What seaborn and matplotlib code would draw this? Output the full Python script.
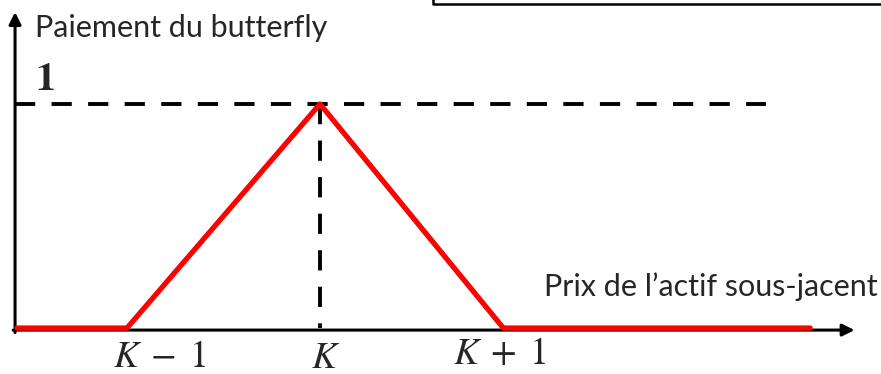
import numpy as np
import pandas as pd
import matplotlib
matplotlib.use("Agg")
import matplotlib.pyplot as plt
import seaborn as sns

# payoff of the butterfly (strike K = 2 in chart units)
price = [0.43, 1.0, 2.0, 2.95, 4.54]
payoff = [0.0, 0.0, 1.0, 0.0, 0.0]
tick_pos = [1.17, 2.03, 2.93]
tick_labels = [r"$K\;-\;1$", r"$K$", r"$K\;+\;1$"]


def main() -> None:
    sns.set_theme(style="white")
    plt.rcParams["font.family"] = ["Lato", "DejaVu Sans"]
    plt.rcParams["mathtext.fontset"] = "stix"

    fig = plt.figure(figsize=(8.81, 3.74), dpi=100)
    ax = fig.add_axes([0, 0, 1, 1])
    ax.set_xlim(0.342, 4.907)
    ax.set_ylim(-0.205, 1.464)
    ax.axis("off")

    df = pd.DataFrame({"price": price, "payoff": payoff})

    # dashed guides
    ax.plot([0.42, 4.31], [1, 1], color="black", lw=2.8,
            linestyle=(0, (5.2, 4.2)), solid_capstyle="butt")
    ax.plot([2.0, 2.0], [1, 0], color="black", lw=2.8,
            linestyle=(0, (5.2, 4.2)))

    # axes with arrows
    ax.annotate("", xy=(4.77, -0.009), xytext=(0.41, -0.009),
                arrowprops=dict(arrowstyle="-|>", lw=2.2, color="black",
                                mutation_scale=18, shrinkA=0, shrinkB=0))
    ax.annotate("", xy=(0.42, 1.41), xytext=(0.42, -0.02),
                arrowprops=dict(arrowstyle="-|>", lw=2.2, color="black",
                                mutation_scale=18, shrinkA=0, shrinkB=0))

    sns.lineplot(data=df, x="price", y="payoff", sort=False, color="#ff0000",
                 lw=3.8, ax=ax, zorder=5)

    for pos, lab, yy in zip(tick_pos, tick_labels, [-0.125, -0.128, -0.112]):
        ax.text(pos, yy, lab, ha="center", va="center", fontsize=27)

    ax.text(0.523, 1.063, r"$\mathbf{1}$", fontsize=29, ha="left", va="baseline")
    ax.text(0.523, 1.339, "Paiement du butterfly", fontsize=22,
            ha="left", va="center")
    ax.text(4.89, 0.183, "Prix de l\u2019actif sous-jacent", fontsize=22,
            ha="right", va="center")

    # frame fragment in the top right corner
    ax.plot([2.585, 2.585, 4.95], [1.48, 1.446, 1.446], color="black",
            lw=1.8, clip_on=False)

    fig.savefig("out.png", dpi=100)


if __name__ == "__main__":
    main()
